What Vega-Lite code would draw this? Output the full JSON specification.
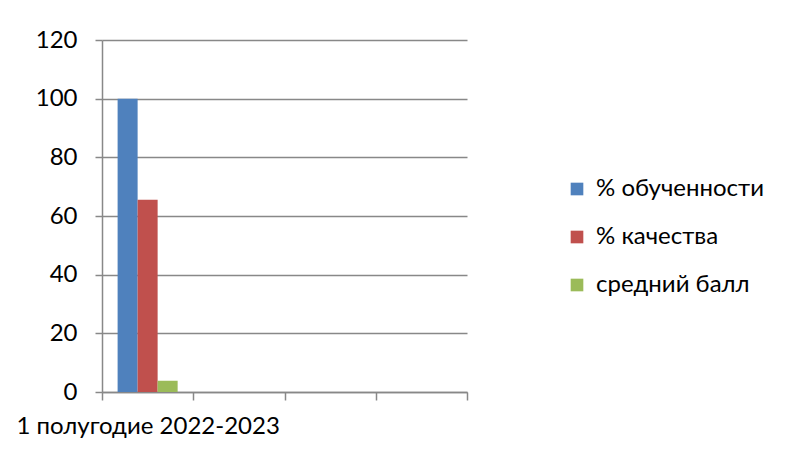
{
  "$schema": "https://vega.github.io/schema/vega-lite/v6.json",
  "width": 365,
  "height": 352,
  "autosize": {"type": "none"},
  "padding": {"left": 102, "top": 40, "right": 320, "bottom": 62},
  "background": "white",
  "config": {
    "view": {"stroke": null},
    "font": "Lato",
    "axis": {"labelFont": "Lato", "labelFontSize": 24, "labelColor": "#000000"},
    "legend": {"labelFont": "Lato", "labelFontSize": 24, "labelColor": "#000000"}
  },
  "data": {
    "values": [
      {"period": "1 полугодие 2022-2023", "series": "% обученности", "value": 100},
      {"period": "1 полугодие 2022-2023", "series": "% качества", "value": 65.5},
      {"period": "1 полугодие 2022-2023", "series": "средний балл", "value": 3.8}
    ]
  },
  "mark": {"type": "bar"},
  "encoding": {
    "x": {
      "field": "period",
      "type": "nominal",
      "scale": {"domain": ["1 полугодие 2022-2023", "p2", "p3", "p4"], "paddingInner": 0, "paddingOuter": 0},
      "axis": {
        "title": null,
        "labelAngle": 0,
        "labelExpr": "datum.value == '1 полугодие 2022-2023' ? datum.value : ''",
        "labelLimit": 500,
        "labelOverlap": false,
        "labelPadding": 14,
        "tickBand": "extent",
        "tickSize": 8,
        "tickColor": "#888888",
        "tickWidth": 1.5,
        "domainColor": "#888888",
        "domainWidth": 1.5,
        "grid": false
      }
    },
    "xOffset": {
      "field": "series",
      "type": "nominal",
      "sort": ["% обученности", "% качества", "средний балл"],
      "scale": {"paddingInner": 0, "paddingOuter": 0.78}
    },
    "y": {
      "field": "value",
      "type": "quantitative",
      "scale": {"domain": [0, 120]},
      "axis": {
        "title": null,
        "values": [0, 20, 40, 60, 80, 100, 120],
        "tickSize": 7,
        "tickColor": "#888888",
        "tickWidth": 1.5,
        "labelPadding": 18,
        "domainColor": "#888888",
        "domainWidth": 1.5,
        "gridColor": "#888888",
        "gridWidth": 1.5
      }
    },
    "color": {
      "field": "series",
      "type": "nominal",
      "sort": ["% обученности", "% качества", "средний балл"],
      "scale": {"domain": ["% обученности", "% качества", "средний балл"], "range": ["#4F81BD", "#C0504D", "#9BBB59"]},
      "legend": {
        "title": null,
        "orient": "none",
        "legendX": 463,
        "legendY": 137,
        "symbolType": "square",
        "symbolSize": 160,
        "symbolStrokeWidth": 0,
        "symbolOpacity": 1,
        "rowPadding": 24,
        "labelOffset": 7,
        "labelLimit": 300
      }
    }
  }
}
